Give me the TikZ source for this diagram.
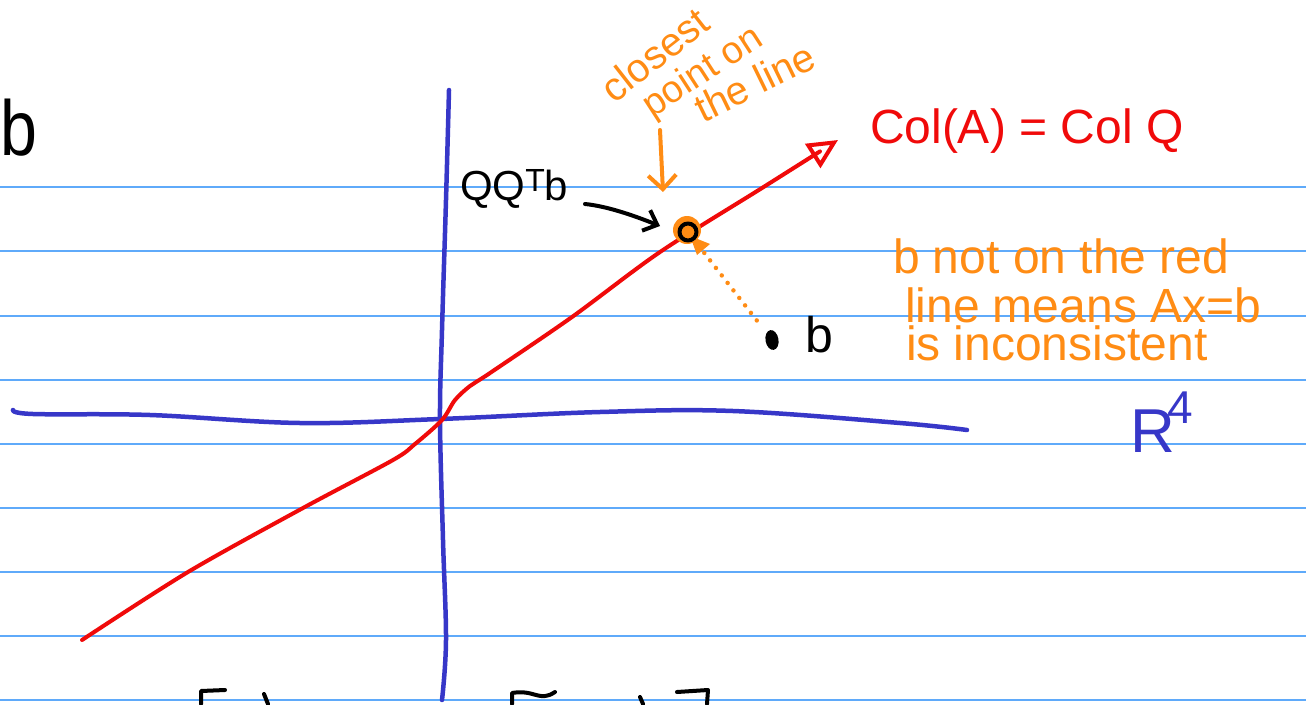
\documentclass[tikz,border=0pt]{standalone}
\usepackage{fontspec}
\setmainfont{Liberation Sans}
\usetikzlibrary{arrows.meta,shapes.geometric}
\definecolor{ruleblue}{RGB}{95,170,250}
\definecolor{axblue}{RGB}{55,55,200}
\definecolor{pred}{RGB}{240,10,10}
\definecolor{porange}{RGB}{255,140,20}
\begin{document}
\begin{tikzpicture}[x=1pt,y=-1pt, line cap=round, line join=round,
  ruleline/.style={ruleblue, line width=1.6pt},
  axispen/.style={axblue, line width=4.5pt},
  redpen/.style={pred, line width=4pt},
  orpen/.style={porange, line width=4pt},
  blkpen/.style={black, line width=4pt},
  lbl/.style={inner sep=0pt, outer sep=0pt, anchor=base west},
  fs/.style={font=\fontsize{#1}{#1}\selectfont},
]
\useasboundingbox (0,0) rectangle (1306,704);
\fill[white] (0,0) rectangle (1306,704);
\foreach \y in {187,251,316,380,444,508,572,636,700}
  \draw[ruleline] (0,\y) -- (1306,\y);

% axes
\draw[axispen] plot[smooth, tension=0.6] coordinates {(449,90) (446,200) (442,330) (440,420) (443,540) (446,640) (442,700)};
\draw[axispen] plot[smooth, tension=0.6] coordinates {(13,410) (33,414) (150,415) (300,423) (440,419) (600,412) (733,411) (900,423) (967,430)};

% red line Col(A)
\draw[redpen, -{Triangle[open, length=30pt, width=28pt, line width=4pt]}]
  plot[smooth, tension=0.5] coordinates {(82,640) (188,572) (303,508) (393,460) (415,444) (442,420) (455,400) (470,386) (490,373) (572,317) (660,252) (762,188) (838,140)};

% projection point
\fill[porange] (687,230) circle (14);
\fill[porange] (690,236) -- (710,244) -- (697,255) -- cycle;
\node[draw=black, line width=4pt, circle, minimum size=17pt, inner sep=0pt] (proj) at (688,232) {};

% the point b
\node[fill=black, ellipse, inner sep=0pt, minimum width=13pt, minimum height=20pt, rotate=10] (bdot) at (772,340) {};
\node[lbl, fs=50] (blab) at (805,352) {b};

\draw[porange, line width=4.5pt, dash pattern=on 0pt off 9.5pt, shorten <=16pt, shorten >=7pt] (proj) -- (bdot);

% labels
\node[lbl, fs=78, xscale=0.85] (btop) at (0,155) {b};
\node[lbl, fs=42] (qqtb) at (460,200) {QQ\raisebox{9pt}{\fontsize{32}{32}\selectfont T}b};
\node[lbl, fs=48, pred] (col) at (870,143) {Col(A) = Col Q};
\node[lbl, fs=62, axblue] (rr) at (1130,452) {R};
\node[lbl, fs=46, axblue] (rfour) at (1167,423) {4};

\node[lbl, fs=40, porange, rotate=38] (cl1) at (614,104) {closest};
\node[lbl, fs=38, porange, rotate=33] (cl2) at (652,118) {point on};
\node[lbl, fs=40, porange, rotate=26] (cl3) at (703,123) {the line};

\node[lbl, fs=48, porange] (t1) at (893,273) {b not on the red};
\node[lbl, fs=48, porange] (t2) at (905,322) {line means Ax=b};
\node[lbl, fs=48, porange] (t3) at (906,360) {is inconsistent};

% arrows
\coordinate (oa1) at (660,130);
\coordinate (oa2) at (663,192);
\draw[orpen, -{Straight Barb[length=14pt, width=28pt, line width=4pt]}] (oa1) -- (oa2);
\coordinate (ba1) at (585,204);
\coordinate (ba2) at (660,226);
\draw[blkpen, -{Straight Barb[length=12pt, width=22pt, line width=4pt]}] (ba1) .. controls (605,206) and (630,214) .. (ba2);

% partial brackets cut off at the bottom
\draw[blkpen] (225,690) -- (201,691) -- (201,704);
\draw[blkpen] (264,694) -- (268,704);
\draw[blkpen] (512,704) -- (512,693) .. controls (530,690) and (535,697) .. (545,696) .. controls (550,695) .. (555,692);
\draw[blkpen] (640,697) -- (643,704);
\draw[blkpen] (677,692) -- (708,690) -- (707,704);
\end{tikzpicture}
\end{document}
